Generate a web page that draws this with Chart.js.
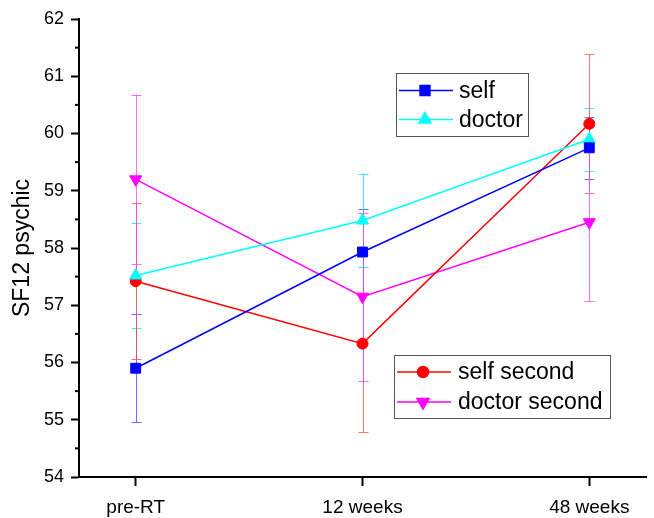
<!DOCTYPE html>
<html>
<head>
<meta charset="utf-8">
<script src="https://cdn.jsdelivr.net/npm/chart.js@4/dist/chart.umd.min.js"></script>
<style>
  html, body { margin: 0; padding: 0; background: #fff; }
  #wrap { width: 654px; height: 518px; position: relative; }
</style>
</head>
<body>
<div id="wrap"><canvas id="c" width="654" height="518"></canvas></div>
<script>
// Time points
const categories = ['pre-RT', '12 weeks', '48 weeks'];

// Mean SF12 psychic scores
const selfValues = [55.90, 57.93, 59.75];
const doctorValues = [57.52, 58.48, 59.90];
const selfSecondValues = [57.42, 56.33, 60.17];
const doctorSecondValues = [59.20, 57.15, 58.45];

// Symmetric error bar half-widths
const selfErr = [0.94, 0.75, 0.54];
const doctorErr = [0.92, 0.82, 0.55];
const selfSecondErr = [1.36, 1.54, 1.21];
const doctorSecondErr = [1.48, 1.47, 1.38];

// Y axis ticks
const yTicks = [54, 55, 56, 57, 58, 59, 60, 61, 62];

const FONT = "'Liberation Sans', Arial, sans-serif";

function series(label, values, errs, color, errColor, style, radius, rotation, group) {
  return {
    label,
    data: values.map((v, i) => ({ x: i, y: v })),
    errors: errs,
    errColor,
    legendGroup: group,
    borderColor: color,
    backgroundColor: color,
    borderWidth: 1.5,
    pointStyle: style,
    pointRadius: radius,
    pointHoverRadius: radius,
    pointRotation: rotation,
    pointBorderWidth: 1,
    pointBackgroundColor: color,
    pointBorderColor: color,
    tension: 0
  };
}

const datasets = [
  series('self', selfValues, selfErr, '#0000ff', 'rgba(60,60,255,0.75)', 'rect', 7, 0, 0),
  series('doctor', doctorValues, doctorErr, '#00ffff', 'rgba(0,230,230,0.75)', 'triangle', 7, 0, 0),
  series('self second', selfSecondValues, selfSecondErr, '#ff0000', 'rgba(255,70,70,0.75)', 'circle', 5.5, 0, 1),
  series('doctor second', doctorSecondValues, doctorSecondErr, '#ff00ff', 'rgba(255,60,255,0.75)', 'triangle', 7, 180, 1)
];

// Error bars under the lines and markers
const errorBars = {
  id: 'errorBars',
  beforeDatasetsDraw(chart) {
    const { ctx, scales: { x, y } } = chart;
    ctx.save();
    ctx.lineWidth = 1;
    chart.data.datasets.forEach(ds => {
      ctx.strokeStyle = ds.errColor;
      ds.data.forEach((p, i) => {
        const e = ds.errors[i];
        const px = Math.round(x.getPixelForValue(p.x)) + 0.5;
        const top = y.getPixelForValue(p.y + e);
        const bot = y.getPixelForValue(p.y - e);
        ctx.beginPath();
        ctx.moveTo(px, top); ctx.lineTo(px, bot);
        ctx.moveTo(px - 5, Math.round(top) + 0.5); ctx.lineTo(px + 5, Math.round(top) + 0.5);
        ctx.moveTo(px - 5, Math.round(bot) + 0.5); ctx.lineTo(px + 5, Math.round(bot) + 0.5);
        ctx.stroke();
      });
    });
    ctx.restore();
  }
};

// Minor ticks on the y axis at half steps
const minorTicks = {
  id: 'minorTicks',
  afterDraw(chart) {
    const { ctx, scales: { x, y } } = chart;
    ctx.save();
    ctx.strokeStyle = '#000';
    ctx.lineWidth = 2;
    for (let i = 0; i < yTicks.length - 1; i++) {
      const py = y.getPixelForValue((yTicks[i] + yTicks[i + 1]) / 2);
      ctx.beginPath();
      ctx.moveTo(x.left, py); ctx.lineTo(x.left - 4, py);
      ctx.stroke();
    }
    ctx.restore();
  }
};

// Two framed legend boxes
const legendBoxes = {
  id: 'legendBoxes',
  afterDraw(chart) {
    const { ctx } = chart;
    const boxes = [
      { group: 0, x: 396, y: 73, w: 132, h: 63, rowY: [90.5, 119.5], textX: 459 },
      { group: 1, x: 394, y: 355, w: 216, h: 63, rowY: [372, 402], textX: 458 }
    ];
    ctx.save();
    boxes.forEach(b => {
      ctx.fillStyle = '#fff';
      ctx.fillRect(b.x, b.y, b.w, b.h);
      ctx.strokeStyle = '#555';
      ctx.lineWidth = 1;
      ctx.strokeRect(b.x + 0.5, b.y + 0.5, b.w, b.h);
      const items = chart.data.datasets.filter(d => d.legendGroup === b.group);
      items.forEach((ds, i) => {
        const ry = b.rowY[i];
        ctx.strokeStyle = ds.borderColor;
        ctx.lineWidth = 1.5;
        ctx.beginPath();
        ctx.moveTo(b.x + 3, ry); ctx.lineTo(b.x + 57, ry);
        ctx.stroke();
        ctx.fillStyle = ds.pointBackgroundColor;
        Chart.helpers.drawPoint(ctx, {
          pointStyle: ds.pointStyle,
          radius: ds.pointRadius,
          rotation: ds.pointRotation,
          borderWidth: 1
        }, b.x + 29, ry);
        ctx.fillStyle = '#000';
        ctx.font = '23px ' + FONT;
        ctx.textBaseline = 'middle';
        ctx.textAlign = 'left';
        ctx.fillText(ds.label, b.textX, ry + 1);
      });
    });
    ctx.restore();
  }
};

new Chart(document.getElementById('c'), {
  type: 'line',
  data: { datasets },
  plugins: [errorBars, minorTicks, legendBoxes],
  options: {
    responsive: false,
    animation: false,
    events: [],
    layout: { padding: { top: 19, right: 3, left: 0, bottom: 0 } },
    plugins: { legend: { display: false }, tooltip: { enabled: false } },
    scales: {
      x: {
        type: 'linear',
        min: -0.25,
        max: 2.25,
        afterBuildTicks(scale) {
          scale.ticks = categories.map((_, i) => ({ value: i }));
        },
        afterFit(scale) { scale.height = 41; },
        border: { display: true, color: '#000', width: 2 },
        grid: { display: true, drawOnChartArea: false, drawTicks: true, tickLength: 9, tickWidth: 2, tickColor: '#000' },
        ticks: {
          color: '#000',
          font: { family: FONT, size: 19 },
          padding: 10,
          maxRotation: 0,
          callback: (v) => categories[v] ?? ''
        }
      },
      y: {
        min: 54,
        max: 62,
        afterBuildTicks(scale) {
          scale.ticks = yTicks.map(v => ({ value: v }));
        },
        afterFit(scale) { scale.width = 79; },
        border: { display: true, color: '#000', width: 2 },
        grid: { display: true, drawOnChartArea: false, drawTicks: true, tickLength: 8, tickWidth: 2, tickColor: '#000' },
        ticks: {
          color: '#000',
          font: { family: FONT, size: 18 },
          padding: 7
        },
        title: {
          display: true,
          text: 'SF12 psychic',
          color: '#000',
          font: { family: FONT, size: 23 },
          padding: { top: 9, bottom: 0 }
        }
      }
    }
  }
});
</script>
</body>
</html>
